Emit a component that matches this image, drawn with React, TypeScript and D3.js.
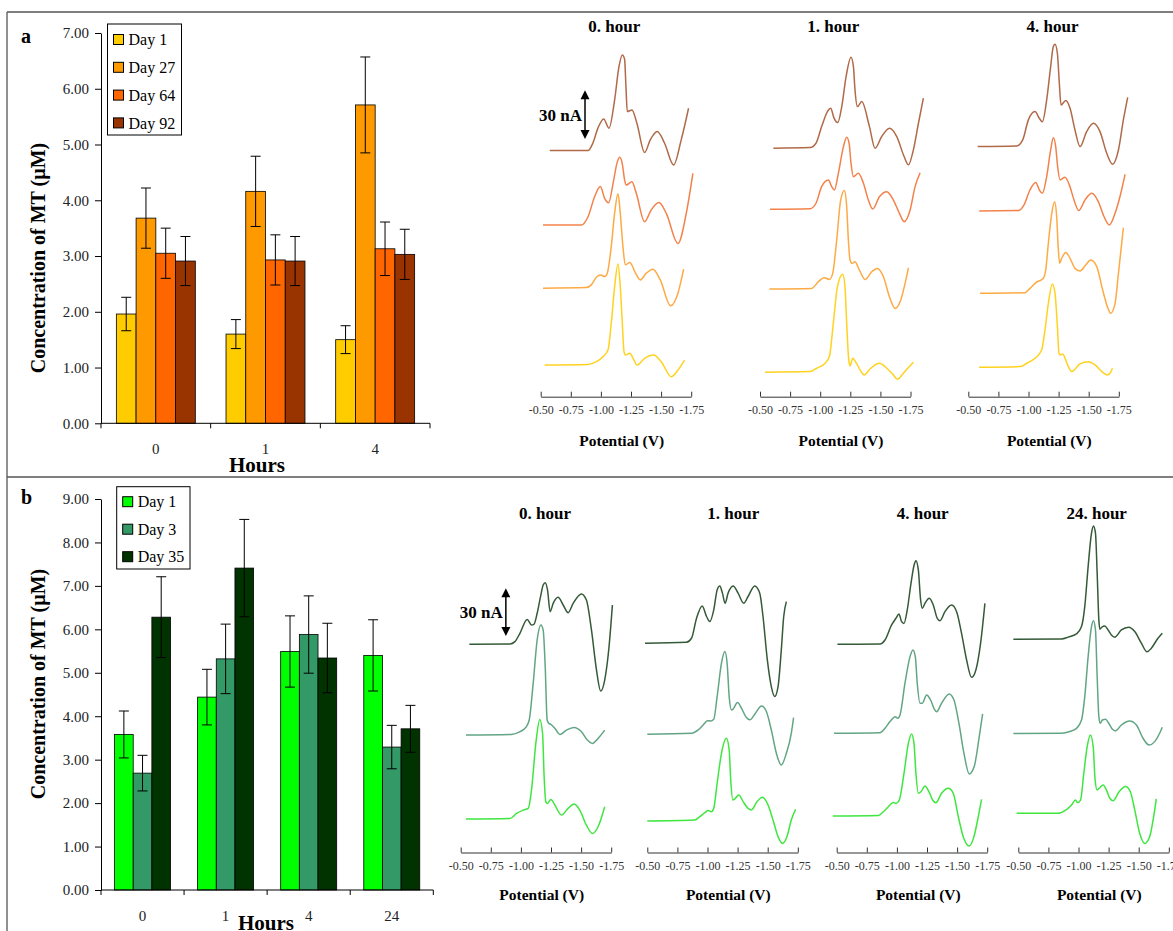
import * as d3 from "d3";
import React, { useEffect, useRef } from "react";

type Pt = [number, number];

const W = 1173;
const H = 931;
const SERIF = "'Liberation Serif', 'Times New Roman', serif";

// ---- bar chart a ----
const hoursA = ["0", "1", "4"];
const daysA = ["Day 1", "Day 27", "Day 64", "Day 92"];
const barColorsA = ["#FFCC00", "#FF9900", "#FF6600", "#993300"];
const meanA = [
  [1.96, 1.6, 1.5],
  [3.68, 4.16, 5.71],
  [3.05, 2.93, 3.13],
  [2.91, 2.91, 3.03],
];
const errA = [
  [0.3, 0.26, 0.25],
  [0.54, 0.63, 0.86],
  [0.45, 0.45, 0.48],
  [0.44, 0.44, 0.45],
];
const ticksA = [0, 1, 2, 3, 4, 5, 6, 7];

// ---- bar chart b ----
const hoursB = ["0", "1", "4", "24"];
const daysB = ["Day 1", "Day 3", "Day 35"];
const barColorsB = ["#00FF00", "#339966", "#003300"];
const meanB = [
  [3.58, 4.44, 5.49, 5.4],
  [2.69, 5.32, 5.88, 3.29],
  [6.28, 7.41, 5.34, 3.71],
];
const errB = [
  [0.54, 0.64, 0.82, 0.82],
  [0.41, 0.8, 0.89, 0.5],
  [0.93, 1.12, 0.8, 0.54],
];
const ticksB = [0, 1, 2, 3, 4, 5, 6, 7, 8, 9];

// ---- voltammograms, [potential V, current nA above own baseline] ----
const potentialTicks = [-0.5, -0.75, -1.0, -1.25, -1.5, -1.75];
const lineColorsA = ["#FFD21F", "#FDAA45", "#F3824A", "#B06A48"];
const lineColorsB = ["#3FE63F", "#62A585", "#355A38"];

const a0Day1: Pt[] = [[-0.533, 0], [-0.893, 0.4], [-0.962, 2.1], [-1.017, 5.2], [-1.059, 9.4], [-1.086, 26], [-1.114, 49], [-1.142, 63.1], [-1.161, 49], [-1.178, 26], [-1.192, 8.3], [-1.205, 6.3], [-1.239, 7.3], [-1.272, 3.5], [-1.299, 0], [-1.363, 4.2], [-1.438, 6.3], [-1.501, 2.1], [-1.584, -7.3], [-1.64, -3.1], [-1.695, 3.1]];
const a0Day27: Pt[] = [[-0.519, 0], [-0.879, 0.4], [-0.92, 2.1], [-0.962, 6.9], [-0.998, 8.3], [-1.031, 7.3], [-1.053, 9.4], [-1.086, 26], [-1.114, 46.9], [-1.142, 59], [-1.161, 46.9], [-1.183, 26], [-1.203, 14.6], [-1.239, 16], [-1.288, 9.4], [-1.327, 5.2], [-1.377, 9.4], [-1.432, 11.9], [-1.493, 5.2], [-1.579, -11], [-1.64, -3.1], [-1.687, 11.9]];
const a0Day64: Pt[] = [[-0.519, 0], [-0.837, 0], [-0.893, 5.2], [-0.948, 17.7], [-0.995, 24], [-1.031, 16.7], [-1.064, 13.9], [-1.106, 28.1], [-1.133, 38.5], [-1.156, 42.3], [-1.178, 38.1], [-1.197, 28.1], [-1.211, 25], [-1.258, 27.1], [-1.294, 19.8], [-1.363, 2.1], [-1.418, 9.4], [-1.482, 14], [-1.543, 7.3], [-1.64, -11.5], [-1.709, 7.3], [-1.764, 32.3]];
const a0Day92: Pt[] = [[-0.575, 0], [-0.893, 0], [-0.934, 4.8], [-0.976, 14.2], [-1.023, 19.8], [-1.067, 14], [-1.114, 31.7], [-1.15, 52.5], [-1.178, 59.8], [-1.197, 57.1], [-1.208, 40], [-1.219, 24.4], [-1.258, 25.4], [-1.299, 17.1], [-1.363, -1.2], [-1.41, 6.7], [-1.468, 11.9], [-1.529, 4.6], [-1.604, -9], [-1.667, 6.7], [-1.728, 26.5]];

const a1Day1: Pt[] = [[-0.542, 0], [-0.916, 0.4], [-0.971, 2.5], [-1.04, 5.6], [-1.076, 9.8], [-1.109, 30.6], [-1.143, 53.5], [-1.187, 61.3], [-1.206, 53.5], [-1.22, 30.6], [-1.237, 7.7], [-1.248, 4], [-1.27, 8.8], [-1.298, 6], [-1.331, 1.5], [-1.364, -1.7], [-1.42, 2.5], [-1.492, 5.6], [-1.553, 2.5], [-1.608, -1.7], [-1.641, -4.4], [-1.691, -0.6], [-1.733, 2.9], [-1.774, 6.3]];
const a1Day27: Pt[] = [[-0.578, 0], [-0.929, 0.4], [-0.985, 4.6], [-1.032, 7.1], [-1.076, 6], [-1.104, 9.8], [-1.137, 30.6], [-1.17, 55.6], [-1.201, 61.5], [-1.22, 51.5], [-1.234, 30.6], [-1.248, 18.1], [-1.265, 16], [-1.289, 17.1], [-1.325, 11.9], [-1.373, 6], [-1.428, 10.8], [-1.475, 12.9], [-1.525, 7.7], [-1.575, -4.8], [-1.622, -12.1], [-1.669, -6.9], [-1.705, 3.5], [-1.733, 13.3]];
const a1Day64: Pt[] = [[-0.583, 0], [-0.916, 0.4], [-0.965, 3.8], [-1.012, 14.2], [-1.068, 18.3], [-1.096, 14.2], [-1.118, 12.1], [-1.151, 22.5], [-1.193, 39.2], [-1.22, 45], [-1.24, 41.3], [-1.256, 28.8], [-1.276, 20.4], [-1.317, 22.5], [-1.359, 16.3], [-1.4, 5.8], [-1.436, 0.2], [-1.492, 7.9], [-1.553, 11], [-1.608, 5.8], [-1.658, -2.5], [-1.697, -7.7], [-1.747, -0.4], [-1.788, 14.2], [-1.83, 22.9]];
const a1Day92: Pt[] = [[-0.611, 0], [-0.916, 0.4], [-0.965, 3.1], [-1.012, 13.5], [-1.06, 22.9], [-1.087, 25], [-1.115, 18.8], [-1.145, 16], [-1.179, 26], [-1.215, 44.8], [-1.256, 56.9], [-1.276, 51], [-1.289, 36.5], [-1.309, 26], [-1.345, 29.2], [-1.409, 13.5], [-1.456, 0], [-1.511, 7.3], [-1.575, 12.5], [-1.636, 7.3], [-1.697, -5.2], [-1.733, -10.4], [-1.774, -1], [-1.816, 15.6], [-1.857, 31.3]];

const a4Day1: Pt[] = [[-0.589, 0], [-0.929, 0.4], [-0.985, 2.5], [-1.054, 5.6], [-1.109, 10.8], [-1.137, 23.3], [-1.165, 40], [-1.198, 52.1], [-1.22, 46.3], [-1.24, 25.4], [-1.253, 8.8], [-1.265, 7.7], [-1.284, 8.3], [-1.309, 4.6], [-1.331, 0.4], [-1.359, -2.7], [-1.428, 2.1], [-1.497, 3.5], [-1.553, 1.5], [-1.608, -2.7], [-1.655, -4.8], [-1.677, -3.8], [-1.697, -0.6]];
const a4Day27: Pt[] = [[-0.597, 0], [-0.971, 0.4], [-1.012, 3.1], [-1.062, 6.7], [-1.123, 9.4], [-1.143, 14.6], [-1.165, 31.3], [-1.193, 50], [-1.217, 57.3], [-1.234, 47.9], [-1.248, 27.1], [-1.259, 18.8], [-1.276, 21.9], [-1.309, 25.6], [-1.345, 21.9], [-1.386, 15.6], [-1.428, 14], [-1.475, 17.7], [-1.517, 20.8], [-1.567, 16.7], [-1.616, 2.1], [-1.655, -8.3], [-1.683, -12.5], [-1.719, -6.3], [-1.747, 12.5], [-1.788, 41]];
const a4Day64: Pt[] = [[-0.591, 0], [-0.916, 0.2], [-0.963, 3.8], [-1.012, 13.1], [-1.06, 17.7], [-1.09, 13.1], [-1.115, 11], [-1.151, 21.5], [-1.184, 38.1], [-1.206, 45.8], [-1.226, 40.2], [-1.242, 27.7], [-1.262, 19.4], [-1.303, 21], [-1.339, 16.3], [-1.378, 6.9], [-1.417, 0.2], [-1.47, 6.9], [-1.525, 11], [-1.58, 5.8], [-1.627, -3.5], [-1.672, -8.8], [-1.719, -1.5], [-1.76, 9], [-1.802, 22.9]];
const a4Day92: Pt[] = [[-0.578, 0], [-0.902, 0.4], [-0.952, 4.2], [-0.999, 16.7], [-1.054, 21.9], [-1.09, 17.7], [-1.115, 15.6], [-1.151, 29.2], [-1.184, 50], [-1.206, 62.5], [-1.22, 64], [-1.24, 58.3], [-1.256, 39.6], [-1.27, 26], [-1.309, 28.8], [-1.345, 24], [-1.386, 10.4], [-1.428, 0], [-1.483, 9.4], [-1.539, 14.6], [-1.594, 9.4], [-1.65, -4.2], [-1.699, -11], [-1.747, -2.1], [-1.788, 16.7], [-1.824, 30.8]];

const b0Day1: Pt[] = [[-0.544, 0], [-0.909, 0.4], [-0.964, 3.5], [-1.019, 5.6], [-1.061, 6.7], [-1.088, 18.1], [-1.124, 47.3], [-1.157, 62.3], [-1.18, 53.5], [-1.193, 26.5], [-1.207, 10.8], [-1.221, 9.8], [-1.249, 12.3], [-1.282, 8.8], [-1.337, 2.5], [-1.392, 6.7], [-1.442, 9.4], [-1.489, 5.6], [-1.544, -3.8], [-1.594, -9], [-1.641, -4.8], [-1.696, 7.7]];
const b0Day3: Pt[] = [[-0.544, 0], [-0.923, 0.4], [-0.992, 2.1], [-1.041, 4.8], [-1.069, 9.4], [-1.102, 32.3], [-1.135, 59.4], [-1.166, 68.8], [-1.185, 65.6], [-1.202, 42.7], [-1.218, 9.4], [-1.232, 7.3], [-1.249, 6.7], [-1.282, 4.2], [-1.323, 0.4], [-1.378, 3.1], [-1.442, 4.8], [-1.503, 2.1], [-1.552, -3.1], [-1.594, -5.2], [-1.641, -2.1], [-1.696, 3.1]];
const b0Day35: Pt[] = [[-0.572, 0], [-0.909, 0.2], [-0.95, 1.7], [-0.992, 6.9], [-1.052, 15.6], [-1.088, 12.1], [-1.108, 12.5], [-1.135, 19.4], [-1.163, 29.8], [-1.185, 37.1], [-1.202, 38.5], [-1.221, 34], [-1.243, 20.4], [-1.268, 25.6], [-1.309, 29.4], [-1.351, 24.6], [-1.392, 19.8], [-1.434, 25.6], [-1.503, 31.5], [-1.544, 27.7], [-1.586, 9], [-1.627, -15.6], [-1.663, -29.2], [-1.696, -22.3], [-1.732, -1.5], [-1.76, 24.6]];

const b1Day1: Pt[] = [[-0.5, 0], [-0.895, 0.6], [-0.936, 2.7], [-0.978, 5.2], [-1.006, 6.5], [-1.033, 5.8], [-1.052, 7.9], [-1.08, 23.5], [-1.116, 42.3], [-1.157, 51.7], [-1.18, 44.4], [-1.193, 25.6], [-1.21, 13.1], [-1.227, 13.8], [-1.26, 16.3], [-1.296, 12.1], [-1.337, 7.9], [-1.365, 6.9], [-1.412, 12.1], [-1.456, 14.8], [-1.503, 10], [-1.544, 0.6], [-1.586, -9.8], [-1.622, -14], [-1.66, -9.8], [-1.696, 0.6], [-1.732, 7.3]];
const b1Day3: Pt[] = [[-0.5, 0], [-0.867, 0.6], [-0.923, 2.7], [-0.964, 5.8], [-1.0, 8.5], [-1.025, 8.3], [-1.052, 9.4], [-1.08, 23.5], [-1.116, 44.4], [-1.144, 51.7], [-1.163, 44.4], [-1.18, 23.5], [-1.199, 15.2], [-1.213, 15.8], [-1.249, 19.8], [-1.282, 16.3], [-1.318, 11], [-1.351, 9], [-1.401, 13.5], [-1.448, 17.7], [-1.489, 14.2], [-1.53, 2.7], [-1.572, -11.9], [-1.613, -19.2], [-1.655, -11.9], [-1.696, 0.6], [-1.715, 10.4]];
const b1Day35: Pt[] = [[-0.481, 0], [-0.826, 0.6], [-0.867, 3.1], [-0.909, 15.6], [-0.956, 23.3], [-0.992, 16.7], [-1.019, 13.5], [-1.052, 20.8], [-1.08, 33.3], [-1.102, 35.8], [-1.124, 31.3], [-1.146, 25], [-1.171, 31.3], [-1.213, 35.8], [-1.254, 31.3], [-1.301, 25], [-1.337, 29.2], [-1.392, 35.8], [-1.434, 31.3], [-1.461, 16.7], [-1.497, -10.4], [-1.53, -27.1], [-1.558, -33.3], [-1.586, -27.1], [-1.613, -4.2], [-1.633, 16.7], [-1.655, 26]];

const b4Day1: Pt[] = [[-0.467, 0], [-0.846, 0.4], [-0.887, 2.7], [-0.929, 5.8], [-0.97, 8.5], [-0.992, 7.9], [-1.02, 10], [-1.059, 26.7], [-1.095, 45.4], [-1.122, 51.3], [-1.142, 45.4], [-1.158, 26.7], [-1.178, 14.2], [-1.2, 15.2], [-1.233, 18.8], [-1.266, 15.2], [-1.297, 10], [-1.324, 8.3], [-1.371, 14.2], [-1.427, 17.3], [-1.468, 14.2], [-1.51, -0.4], [-1.551, -12.9], [-1.601, -18.8], [-1.64, -12.9], [-1.676, -0.4], [-1.703, 10.4]];
const b4Day3: Pt[] = [[-0.478, 0], [-0.86, 0.4], [-0.901, 3.1], [-0.943, 7.3], [-0.987, 10.4], [-1.006, 9.4], [-1.026, 11.5], [-1.067, 31.3], [-1.109, 47.9], [-1.133, 52.1], [-1.153, 47.9], [-1.169, 31.3], [-1.192, 18.8], [-1.211, 18.8], [-1.247, 24], [-1.28, 20.8], [-1.308, 15.6], [-1.33, 13.5], [-1.371, 18.8], [-1.435, 24.6], [-1.474, 20.8], [-1.515, 6.3], [-1.557, -12.5], [-1.601, -25.4], [-1.642, -20.8], [-1.684, -2.1], [-1.712, 12.1]];
const b4Day35: Pt[] = [[-0.506, 0], [-0.86, 0.2], [-0.901, 2.7], [-0.956, 12.1], [-0.992, 16.3], [-1.017, 19], [-1.039, 14.2], [-1.059, 13.1], [-1.086, 21.5], [-1.117, 38.1], [-1.145, 50.2], [-1.158, 52.3], [-1.178, 46.5], [-1.197, 27.7], [-1.211, 22.5], [-1.233, 25.6], [-1.269, 28.8], [-1.302, 24.6], [-1.335, 16.3], [-1.358, 14.8], [-1.399, 20.4], [-1.454, 24.6], [-1.496, 20.4], [-1.537, 6.9], [-1.579, -9.8], [-1.62, -20.6], [-1.656, -16], [-1.695, 0.6], [-1.731, 25.6]];

const b24Day1: Pt[] = [[-0.486, 0], [-0.831, 0], [-0.887, 1.7], [-0.942, 5.2], [-0.975, 8.3], [-0.992, 6.7], [-1.017, 8.3], [-1.044, 25], [-1.072, 41.7], [-1.099, 49], [-1.122, 41.7], [-1.138, 20.8], [-1.155, 14.6], [-1.177, 16], [-1.204, 17.7], [-1.232, 14.6], [-1.26, 9.4], [-1.287, 7.9], [-1.337, 13.5], [-1.392, 16.7], [-1.431, 13.5], [-1.467, 2.1], [-1.508, -12.5], [-1.55, -18.8], [-1.591, -14.6], [-1.624, -2.1], [-1.646, 9]];
const b24Day3: Pt[] = [[-0.459, 0], [-0.859, 0.2], [-0.928, 1.3], [-0.983, 3.3], [-1.025, 8.5], [-1.052, 23.1], [-1.08, 48.1], [-1.108, 66.9], [-1.124, 70.6], [-1.141, 64.8], [-1.155, 35.6], [-1.169, 10.6], [-1.18, 6.5], [-1.199, 8.5], [-1.224, 9], [-1.251, 6.5], [-1.282, 2.7], [-1.307, 1.7], [-1.356, 5.4], [-1.425, 7.9], [-1.481, 5.4], [-1.536, -2.9], [-1.586, -7.1], [-1.633, -5], [-1.674, 0.2], [-1.696, 4]];
const b24Day35: Pt[] = [[-0.459, 0], [-0.859, 0.2], [-0.914, 1.3], [-0.983, 3.3], [-1.025, 7.9], [-1.052, 20.4], [-1.08, 45.4], [-1.108, 66.3], [-1.124, 70.8], [-1.141, 66.3], [-1.155, 41.3], [-1.169, 12.1], [-1.177, 6.3], [-1.193, 7.5], [-1.218, 8.3], [-1.246, 5.8], [-1.273, 2.7], [-1.301, 1.3], [-1.356, 5.8], [-1.417, 7.5], [-1.467, 4.8], [-1.522, -2.5], [-1.569, -7.9], [-1.605, -5.6], [-1.66, 0.6], [-1.696, 3.8]];

// baseline of each trace above the potential axis (nA)
const a0Offsets = [19.8, 67.8, 107.3, 153.8];
const a1Offsets = [15.3, 67.3, 117.1, 155.3];
const a4Offsets = [18.4, 64.6, 116.1, 156.3];
const b0Offsets = [20.9, 73.4, 130.1];
const b1Offsets = [19.7, 73.9, 130.8];
const b4Offsets = [22.8, 74.5, 130.1];
const b24Offsets = [24.5, 74.3, 133.3];

function drawBars(svg: any, o: any) {
  const g = svg.append("g");
  const y = d3.scaleLinear().domain([0, o.max]).range([o.yBottom, o.yTop]);
  const x = d3
    .scaleBand<string>()
    .domain(o.cats)
    .range([o.xLeft, o.xRight])
    .paddingInner(o.pad)
    .paddingOuter(o.pad / 2);
  const xs = d3
    .scaleBand<number>()
    .domain(d3.range(o.names.length))
    .range([0, x.bandwidth()]);

  o.names.forEach((_n: string, si: number) => {
    g.selectAll(null)
      .data(o.mean[si])
      .enter()
      .append("rect")
      .attr("x", (_d: number, i: number) => x(o.cats[i])! + xs(si)!)
      .attr("y", (d: number) => y(d))
      .attr("width", xs.bandwidth())
      .attr("height", (d: number) => y(0) - y(d))
      .attr("fill", o.colors[si])
      .attr("stroke", "#000")
      .attr("stroke-width", 0.8);
  });

  // error bars
  o.names.forEach((_n: string, si: number) => {
    o.mean[si].forEach((m: number, i: number) => {
      const cx = x(o.cats[i])! + xs(si)! + xs.bandwidth() / 2;
      const e = o.err[si][i];
      const eg = g.append("g").attr("stroke", "#000").attr("stroke-width", 1);
      eg.append("line").attr("x1", cx).attr("x2", cx).attr("y1", y(m + e)).attr("y2", y(m - e));
      eg.append("line").attr("x1", cx - 5).attr("x2", cx + 5).attr("y1", y(m + e)).attr("y2", y(m + e));
      eg.append("line").attr("x1", cx - 5).attr("x2", cx + 5).attr("y1", y(m - e)).attr("y2", y(m - e));
    });
  });

  // y axis
  const ya = g
    .append("g")
    .attr("transform", `translate(${o.xLeft},0)`)
    .call(
      d3
        .axisLeft(y)
        .tickValues(o.ticks)
        .tickFormat((d: any) => (+d).toFixed(2))
        .tickSize(6)
        .tickSizeOuter(0)
        .tickPadding(6)
    );
  ya.attr("font-family", SERIF).attr("font-size", 15);
  ya.selectAll("text").attr("fill", "#222");

  // x axis, ticks between categories
  g.append("line")
    .attr("x1", o.xLeft)
    .attr("x2", o.xRight)
    .attr("y1", y(0))
    .attr("y2", y(0))
    .attr("stroke", "#000");
  d3.range(o.cats.length + 1).forEach((i) => {
    const tx = o.xLeft + i * x.step();
    g.append("line").attr("x1", tx).attr("x2", tx).attr("y1", y(0)).attr("y2", y(0) + 5).attr("stroke", "#000");
  });
  g.selectAll(null)
    .data(o.cats)
    .enter()
    .append("text")
    .attr("x", (d: string) => x(d)! + x.bandwidth() / 2)
    .attr("y", o.catLabelY)
    .attr("text-anchor", "middle")
    .attr("font-family", SERIF)
    .attr("font-size", 15)
    .attr("fill", "#222")
    .text((d: string) => d);

  g.append("text")
    .attr("x", o.hoursX)
    .attr("y", o.hoursY)
    .attr("text-anchor", "middle")
    .attr("font-family", SERIF)
    .attr("font-weight", "bold")
    .attr("font-size", 21)
    .text("Hours");

  g.append("text")
    .attr("transform", `translate(${o.yTitleX},${o.yTitleY}) rotate(-90)`)
    .attr("text-anchor", "middle")
    .attr("dy", "0.35em")
    .attr("font-family", SERIF)
    .attr("font-weight", "bold")
    .attr("font-size", 20)
    .text("Concentration of MT (µM)");

  g.append("text")
    .attr("x", 21)
    .attr("y", o.letterY)
    .attr("font-family", SERIF)
    .attr("font-weight", "bold")
    .attr("font-size", 20)
    .text(o.letter);

  // legend
  const lg = g.append("g");
  lg.append("rect")
    .attr("x", o.legend.x)
    .attr("y", o.legend.y)
    .attr("width", o.legend.w)
    .attr("height", o.legend.h)
    .attr("fill", "#fff")
    .attr("stroke", "#000");
  o.names.forEach((n: string, i: number) => {
    const cy = o.legend.firstRow + i * o.legend.rowH;
    lg.append("rect")
      .attr("x", o.legend.x + 6)
      .attr("y", cy - 5)
      .attr("width", 10)
      .attr("height", 10)
      .attr("fill", o.colors[i])
      .attr("stroke", "#000");
    lg.append("text")
      .attr("x", o.legend.x + 21)
      .attr("y", cy)
      .attr("dy", "0.35em")
      .attr("font-family", SERIF)
      .attr("font-size", 16)
      .text(n);
  });
}

function drawVolt(svg: any, p: any) {
  const g = svg.append("g");
  const x = d3.scaleLinear().domain([-0.5, -1.75]).range([p.x0, p.x0 + 150.5]);
  const y = d3.scaleLinear().domain([0, 100]).range([p.axisY, p.axisY - 160]);

  p.curves.forEach((c: Pt[], i: number) => {
    const line = d3
      .line<Pt>()
      .x((d) => x(d[0]))
      .y((d) => y(d[1] + p.offsets[i]))
      .curve(d3.curveMonotoneX);
    g.append("path")
      .datum(c)
      .attr("d", line)
      .attr("fill", "none")
      .attr("stroke", p.colors[i])
      .attr("stroke-width", 1.5)
      .attr("stroke-linejoin", "round");
  });

  const ax = g
    .append("g")
    .attr("transform", `translate(0,${p.axisY})`)
    .call(
      d3
        .axisBottom(x)
        .tickValues(potentialTicks)
        .tickFormat((d: any) => (+d).toFixed(2))
        .tickSize(-5)
        .tickSizeOuter(0)
        .tickPadding(9)
    );
  ax.attr("font-family", SERIF).attr("font-size", 12);
  ax.selectAll("text").attr("fill", "#333");
  ax.selectAll("path,line").attr("stroke", "#333");

  g.append("text")
    .attr("x", p.titleX)
    .attr("y", p.titleY)
    .attr("text-anchor", "middle")
    .attr("font-family", SERIF)
    .attr("font-weight", "bold")
    .attr("font-size", 17)
    .text(p.title);

  g.append("text")
    .attr("x", p.labelX)
    .attr("y", p.labelY)
    .attr("text-anchor", "middle")
    .attr("font-family", SERIF)
    .attr("font-weight", "bold")
    .attr("font-size", 15.5)
    .text("Potential (V)");

  if (p.arrow) {
    const ax0 = x(p.arrow.e);
    const yT = y(p.arrow.top);
    const yB = y(p.arrow.bottom);
    g.append("line")
      .attr("x1", ax0)
      .attr("x2", ax0)
      .attr("y1", yT + 8)
      .attr("y2", yB - 8)
      .attr("stroke", "#000")
      .attr("stroke-width", 1.5);
    g.append("path")
      .attr("d", `M${ax0},${yT} L${ax0 - 4.5},${yT + 9} L${ax0 + 4.5},${yT + 9} Z`)
      .attr("fill", "#000");
    g.append("path")
      .attr("d", `M${ax0},${yB} L${ax0 - 4.5},${yB - 9} L${ax0 + 4.5},${yB - 9} Z`)
      .attr("fill", "#000");
    g.append("text")
      .attr("x", ax0 - 3)
      .attr("y", (yT + yB) / 2 + 6)
      .attr("text-anchor", "end")
      .attr("font-family", SERIF)
      .attr("font-weight", "bold")
      .attr("font-size", 17)
      .text("30 nA");
  }
}

export default function App() {
  const ref = useRef<SVGSVGElement>(null);

  useEffect(() => {
    const svg = d3.select(ref.current);
    svg.selectAll("*").remove();

    svg.append("rect").attr("width", W).attr("height", H).attr("fill", "#fff");

    // frame
    const fr = svg.append("g").attr("stroke", "#555").attr("stroke-width", 1.3);
    fr.append("line").attr("x1", 7).attr("x2", W).attr("y1", 12).attr("y2", 12);
    fr.append("line").attr("x1", 7).attr("x2", 7).attr("y1", 12).attr("y2", H);
    fr.append("line").attr("x1", 7).attr("x2", W).attr("y1", 477).attr("y2", 477);

    drawBars(svg, {
      cats: hoursA,
      names: daysA,
      colors: barColorsA,
      mean: meanA,
      err: errA,
      ticks: ticksA,
      max: 7,
      xLeft: 101,
      xRight: 430,
      yTop: 33,
      yBottom: 423.3,
      pad: 0.28,
      catLabelY: 454,
      hoursX: 257,
      hoursY: 472,
      yTitleX: 38,
      yTitleY: 258,
      letter: "a",
      letterY: 43,
      legend: { x: 107.5, y: 24, w: 74, h: 111, firstRow: 39.5, rowH: 27.8 },
    });

    drawBars(svg, {
      cats: hoursB,
      names: daysB,
      colors: barColorsB,
      mean: meanB,
      err: errB,
      ticks: ticksB,
      max: 9,
      xLeft: 101,
      xRight: 433.3,
      yTop: 499,
      yBottom: 890,
      pad: 0.326,
      catLabelY: 921,
      hoursX: 266,
      hoursY: 930,
      yTitleX: 38,
      yTitleY: 684,
      letter: "b",
      letterY: 504,
      legend: { x: 116.7, y: 486.7, w: 73.3, h: 82.3, firstRow: 501.7, rowH: 27.5 },
    });

    const aTop = { axisY: 396.7, titleY: 32, labelY: 446, colors: lineColorsA };
    drawVolt(svg, { ...aTop, x0: 540.7, title: "0. hour", titleX: 614.3, labelX: 621.7, curves: [a0Day1, a0Day27, a0Day64, a0Day92], offsets: a0Offsets, arrow: { e: -0.868, bottom: 161, top: 191.5 } });
    drawVolt(svg, { ...aTop, x0: 760, title: "1. hour", titleX: 833.3, labelX: 841, curves: [a1Day1, a1Day27, a1Day64, a1Day92], offsets: a1Offsets });
    drawVolt(svg, { ...aTop, x0: 968.3, title: "4. hour", titleX: 1052.5, labelX: 1049.3, curves: [a4Day1, a4Day27, a4Day64, a4Day92], offsets: a4Offsets });

    const bTop = { axisY: 852.5, titleY: 519, labelY: 900, colors: lineColorsB };
    drawVolt(svg, { ...bTop, x0: 460.7, title: "0. hour", titleX: 545, labelX: 541.7, curves: [b0Day1, b0Day3, b0Day35], offsets: b0Offsets, arrow: { e: -0.875, bottom: 135.3, top: 165.1 } });
    drawVolt(svg, { ...bTop, x0: 647.3, title: "1. hour", titleX: 733.3, labelX: 728.3, curves: [b1Day1, b1Day3, b1Day35], offsets: b1Offsets });
    drawVolt(svg, { ...bTop, x0: 836.7, title: "4. hour", titleX: 922.7, labelX: 918.3, curves: [b4Day1, b4Day3, b4Day35], offsets: b4Offsets });
    drawVolt(svg, { ...bTop, x0: 1018.3, title: "24. hour", titleX: 1096.7, labelX: 1099.3, curves: [b24Day1, b24Day3, b24Day35], offsets: b24Offsets });
  }, []);

  return (
    <svg
      ref={ref}
      width={W}
      height={H}
      style={{ position: "absolute", left: 0, top: 0, display: "block" }}
    />
  );
}
